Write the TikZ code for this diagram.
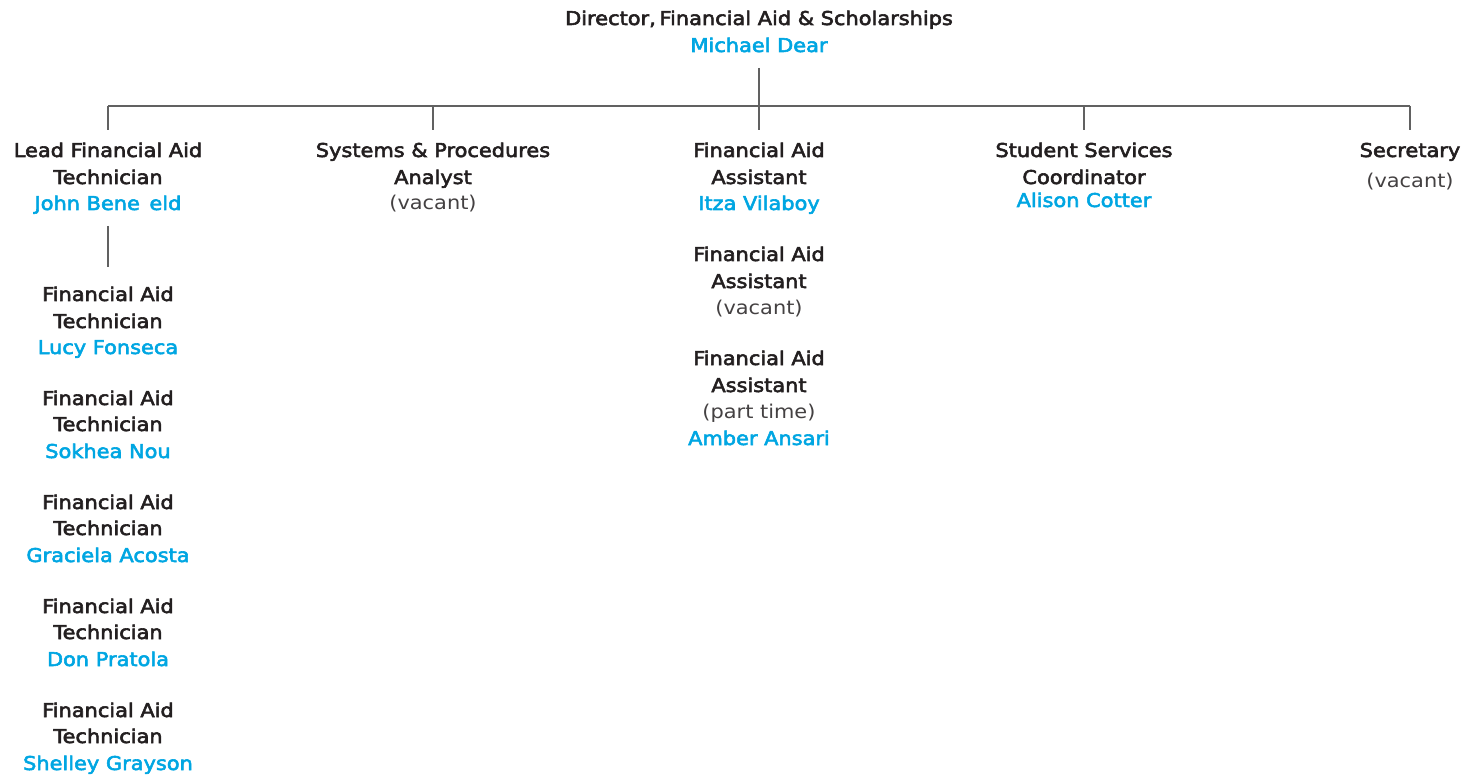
\documentclass[tikz,border=0pt]{standalone}
\usepackage{fontspec}
\setmainfont{DejaVu Sans}
\newfontfamily\plainfont[FakeStretch=1.1]{DejaVu Sans}
\newfontfamily\titlefont[FakeStretch=1.1,FakeBold=3]{DejaVu Sans}
\definecolor{ink}{HTML}{231F20}
\definecolor{namecol}{HTML}{00A6E2}
\definecolor{linecol}{HTML}{616161}
\tikzset{
  ttl/.style={anchor=base, inner sep=0pt, text=ink, font=\titlefont\fontsize{19}{23}\selectfont},
  vac/.style={anchor=base, inner sep=0pt, text=ink!85, font=\plainfont\fontsize{19}{23}\selectfont},
  nm/.style={anchor=base, inner sep=0pt, text=namecol, font=\titlefont\fontsize{19}{23}\selectfont},
  conn/.style={draw=linecol, line width=1.6pt}
}
\begin{document}
\begin{tikzpicture}[x=1pt,y=-1pt]
\useasboundingbox (0,0) rectangle (1465,778);
% Director
\node[ttl] (d1) at (759,25) {Director,\hspace{-0.15em} Financial Aid \& Scholarships};
\node[nm]  (d2) at (759,52) {Michael Dear};
\coordinate (dtop) at (759,68);
\coordinate (dbot) at (759,130);
\coordinate (hl) at (108,106);
\coordinate (hr) at (1410,106);
% Lead technician
\node[ttl] (a1) at (108,157) {Lead Financial Aid};
\node[ttl] (a2) at (108,184) {Technician};
\node[nm]  (a3) at (108,210) {John Bene\hspace{0.5em}eld};
\coordinate (atop) at (108,130);
\coordinate (al1) at (108,226);
\coordinate (al2) at (108,267);
% Technicians
\node[ttl] (t11) at (108,301) {Financial Aid};
\node[ttl] (t12) at (108,328) {Technician};
\node[nm]  (t13) at (108,354) {Lucy Fonseca};
\node[ttl] (t21) at (108,405) {Financial Aid};
\node[ttl] (t22) at (108,431) {Technician};
\node[nm]  (t23) at (108,458) {Sokhea Nou};
\node[ttl] (t31) at (108,509) {Financial Aid};
\node[ttl] (t32) at (108,535) {Technician};
\node[nm]  (t33) at (108,562) {Graciela Acosta};
\node[ttl] (t41) at (108,613) {Financial Aid};
\node[ttl] (t42) at (108,639) {Technician};
\node[nm]  (t43) at (108,666) {Don Pratola};
\node[ttl] (t51) at (108,717) {Financial Aid};
\node[ttl] (t52) at (108,743) {Technician};
\node[nm]  (t53) at (108,770) {Shelley Grayson};
% Systems analyst
\node[ttl] (b1) at (433,157) {Systems \& Procedures};
\node[ttl] (b2) at (433,184) {Analyst};
\node[vac] (b3) at (433,210) {(vacant)};
\coordinate (btop) at (433,130);
% Assistants
\node[ttl] (c1) at (759,157) {Financial Aid};
\node[ttl] (c2) at (759,184) {Assistant};
\node[nm]  (c3) at (759,210) {Itza Vilaboy};
\node[ttl] (c4) at (759,261) {Financial Aid};
\node[ttl] (c5) at (759,288) {Assistant};
\node[vac] (c6) at (759,314) {(vacant)};
\node[ttl] (c7) at (759,365) {Financial Aid};
\node[ttl] (c8) at (759,392) {Assistant};
\node[vac] (c9) at (759,418) {(part time)};
\node[nm]  (c10) at (759,445) {Amber Ansari};
% Student services
\node[ttl] (e1) at (1084,157) {Student Services};
\node[ttl] (e2) at (1084,184) {Coordinator};
\node[nm]  (e3) at (1084,207) {Alison Cotter};
\coordinate (etop) at (1084,130);
% Secretary
\node[ttl] (f1) at (1410,157) {Secretary};
\node[vac] (f2) at (1410,188) {(vacant)};
\coordinate (ftop) at (1410,130);
% connectors
\draw[conn] (dtop) -- (dbot);
\draw[conn] (hl) -- (hr);
\draw[conn] (hl) -- (atop);
\draw[conn] (btop |- hl) -- (btop);
\draw[conn] (etop |- hl) -- (etop);
\draw[conn] (hr) -- (ftop);
\draw[conn] (al1) -- (al2);
\end{tikzpicture}
\end{document}
